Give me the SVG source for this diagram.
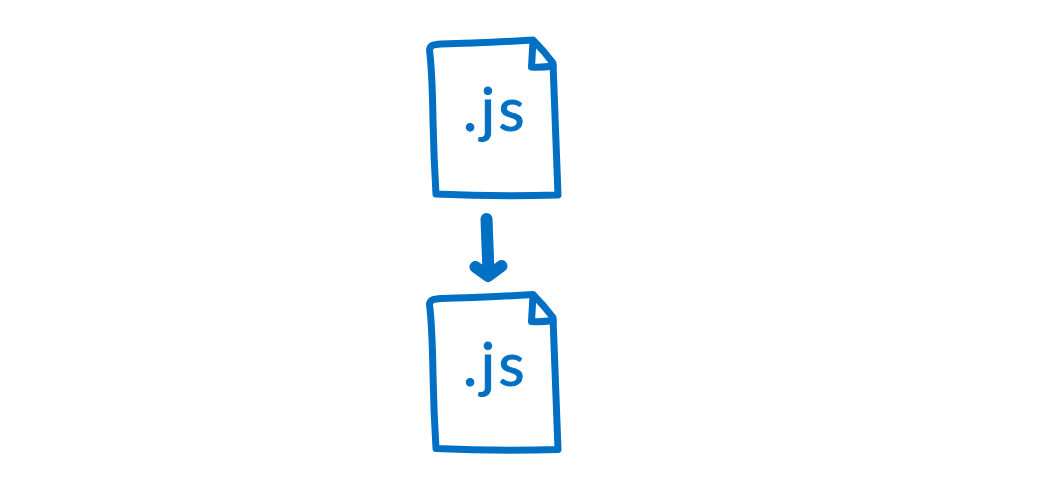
<svg xmlns="http://www.w3.org/2000/svg" width="1060" height="484" viewBox="0 0 1060 484">
<style>
.o{fill:none;stroke:#0070c5;stroke-width:7;stroke-linecap:round;stroke-linejoin:round}
.t{font-family:"Lato","Noto Sans",sans-serif;font-size:60px;fill:#0070c5;stroke:#0070c5;stroke-width:1;letter-spacing:3.500px}
.a{fill:none;stroke:#0070c5;stroke-width:12;stroke-linecap:round;stroke-linejoin:round}
</style>
<defs>
<g id="doc">
<path class="o" d="M533 40C500 42 470 43.500 441 44 C434 44.500 430 45 429.500 50 C432 70 432.500 90 433 120 C433.500 145 434.500 170 436 194 C470 195.500 520 196 558 195 C557 165 555 120 553 63 C547 55 540 47 533 40 Z"/>
<path class="o" d="M533 41C532.500 50 532 58 531.500 67 C539 67.500 546 67 553 66"/>
</g>
</defs>
<rect width="1060" height="484" fill="#ffffff"/>
<g id="file-top">
<use href="#doc"/>
<text class="t" x="463" y="131">.js</text>
</g>
<g id="file-bottom">
<use href="#doc" y="254.500"/>
<text class="t" x="463" y="386">.js</text>
</g>
<g id="connectors">
<path class="a" d="M486.500 219L488.500 272"/>
<path class="a" d="M475.500 267L488 276L501.500 266"/>
</g>
</svg>
